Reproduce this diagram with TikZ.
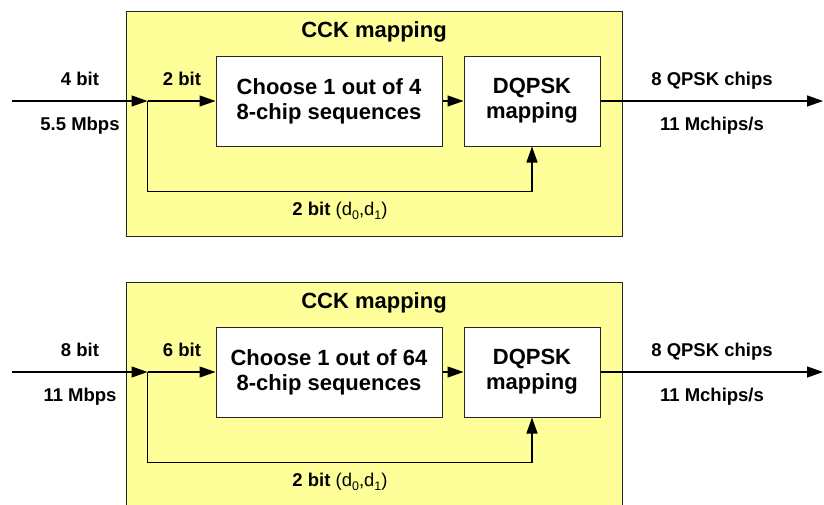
\documentclass[tikz,border=0pt]{standalone}
\usepackage{fontspec}
\setmainfont{Liberation Sans}
\usetikzlibrary{arrows.meta}

\definecolor{cckyellow}{RGB}{255,255,153}
\newcommand{\dsub}[1]{d\raisebox{-0.45ex}{\fontsize{12.5}{13}\selectfont #1}}

\tikzset{
  mapbox/.style={draw=black!85, line width=1pt, fill=cckyellow,
    minimum width=496pt, minimum height=225pt, inner sep=0pt},
  block/.style={draw=black!85, line width=1pt, fill=white, align=center,
    inner sep=0pt, minimum height=90pt,
    font=\fontsize{22}{25}\selectfont\bfseries},
  title/.style={font=\fontsize{22}{25}\selectfont\bfseries, anchor=base},
  lbl/.style={font=\fontsize{18.5}{22}\selectfont\bfseries, anchor=base},
  flow/.style={line width=1.3pt, -{Triangle[length=16pt,width=11pt]}},
}

\begin{document}
\begin{tikzpicture}[x=1pt, y=-1pt]
    \clip (0,0) rectangle (824,504);

    % upper mapping
    \node [mapbox] (cck1) at (374,123.5) {};
    \node [title] (title1) at (374,37) {CCK mapping};
    \node [block, minimum width=226pt] (seq1) at (329,101) {Choose 1 out of 4\\8-chip sequences};
    \node [block, minimum width=136pt] (dq1) at (532,101) {DQPSK\\mapping};

    \coordinate (in1) at (12,101);
    \coordinate (split1) at (147.5,101);
    \coordinate (back1) at (147.5,191.5);
    \coordinate (out1) at (823,101);

    \draw [flow] (in1) -- (split1);
    \draw [flow] (split1) -- (seq1);
    \draw [flow] (seq1) -- (dq1);
    \draw [flow] (dq1) -- (out1);
    \draw [flow] (split1) -- (back1) -- (dq1 |- back1) -- (dq1);

    \node [lbl] (bits1) at (80,85) {4 bit};
    \node [lbl] (rate1) at (80,130) {5.5 Mbps};
    \node [lbl] (sel1) at (182,85) {2 bit};
    \node [lbl] (chips1) at (712,85) {8 QPSK chips};
    \node [lbl] (crate1) at (712,130) {11 Mchips/s};
    \node [lbl] (phase1) at (340,215) {2 bit \textmd{(\dsub{0},\dsub{1})}};

    % lower mapping
    \node [mapbox] (cck2) at (374,394.5) {};
    \node [title] (title2) at (374,308) {CCK mapping};
    \node [block, minimum width=226pt] (seq2) at (329,372) {Choose 1 out of 64\\8-chip sequences};
    \node [block, minimum width=136pt] (dq2) at (532,372) {DQPSK\\mapping};

    \coordinate (in2) at (12,372);
    \coordinate (split2) at (147.5,372);
    \coordinate (back2) at (147.5,462.5);
    \coordinate (out2) at (823,372);

    \draw [flow] (in2) -- (split2);
    \draw [flow] (split2) -- (seq2);
    \draw [flow] (seq2) -- (dq2);
    \draw [flow] (dq2) -- (out2);
    \draw [flow] (split2) -- (back2) -- (dq2 |- back2) -- (dq2);

    \node [lbl] (bits2) at (80,356) {8 bit};
    \node [lbl] (rate2) at (80,401) {11 Mbps};
    \node [lbl] (sel2) at (182,356) {6 bit};
    \node [lbl] (chips2) at (712,356) {8 QPSK chips};
    \node [lbl] (crate2) at (712,401) {11 Mchips/s};
    \node [lbl] (phase2) at (340,486) {2 bit \textmd{(\dsub{0},\dsub{1})}};

\end{tikzpicture}
\end{document}
